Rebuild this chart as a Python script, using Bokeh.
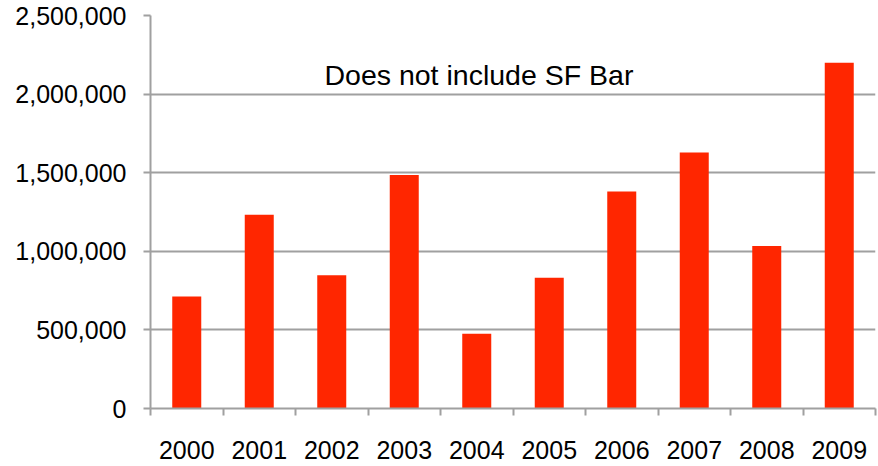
from bokeh.plotting import figure
from bokeh.models import (Range1d, LinearAxis, FixedTicker, NumeralTickFormatter,
                          Label, ColumnDataSource)
from bokeh.embed import file_html
from bokeh.resources import INLINE

# ---- data ----
years = ["2000", "2001", "2002", "2003", "2004", "2005", "2006", "2007", "2008", "2009"]
values = [712000, 1232000, 848000, 1485000, 475000, 831000, 1381000, 1629000, 1033000, 2199000]
y_ticks = [0, 500000, 1000000, 1500000, 2000000, 2500000]
note_text = "Does not include SF Bar"

FONT = "Liberation Sans"
GRID = "#A0A0A0"
BAR = "#FF2600"

n = len(years)
centers = [i + 0.5 for i in range(n)]      # category slot centres
edges = list(range(n + 1))                 # category slot boundaries

p = figure(x_range=Range1d(0, n), y_range=Range1d(0, 2500000),
           width=878, height=466, output_backend="svg", toolbar_location=None,
           x_axis_location=None, y_axis_location="left",
           min_border_left=150, min_border_right=3, min_border_top=15, min_border_bottom=58)
p.outline_line_color = None
p.background_fill_color = "white"
p.border_fill_color = "white"

# bars
src = ColumnDataSource(dict(x=centers, year=years, value=values))
p.vbar(x="x", top="value", width=0.4, source=src, fill_color=BAR, line_color=None)

# y axis
yax = p.yaxis[0]
yax.ticker = FixedTicker(ticks=y_ticks)
yax.formatter = NumeralTickFormatter(format="0,0")
yax.major_tick_out = 7
yax.major_tick_in = 0
yax.minor_tick_line_color = None
yax.axis_line_color = GRID
yax.axis_line_width = 2
yax.major_tick_line_color = GRID
yax.major_tick_line_width = 2
yax.major_label_text_font = FONT
yax.major_label_text_font_size = "25px"
yax.major_label_text_color = "black"
yax.major_label_standoff = 17

p.xgrid.visible = False
p.ygrid.ticker = FixedTicker(ticks=y_ticks)
p.ygrid.grid_line_color = GRID
p.ygrid.grid_line_width = 2

# x axis: tick marks at category boundaries (no labels)
tick_axis = LinearAxis(ticker=FixedTicker(ticks=edges),
                       major_tick_out=7, major_tick_in=0,
                       major_tick_line_color=GRID, major_tick_line_width=2,
                       minor_tick_line_color=None,
                       axis_line_color=GRID, axis_line_width=2,
                       major_label_overrides={t: "" for t in edges},
                       major_label_text_font_size="0px", major_label_standoff=0)
p.add_layout(tick_axis, "below")

# x axis: category labels at slot centres (no ticks)
cat_axis = LinearAxis(ticker=FixedTicker(ticks=centers),
                      major_label_overrides={c: y for c, y in zip(centers, years)},
                      major_tick_line_color=None, major_tick_out=0, major_tick_in=0,
                      minor_tick_line_color=None,
                      axis_line_color=None, major_label_standoff=25,
                      major_label_text_font=FONT, major_label_text_font_size="25px",
                      major_label_text_color="black")
p.add_layout(cat_axis, "below")

# annotation
note = Label(x=4.53, y=2124000, text=note_text,
             text_align="center", text_baseline="alphabetic",
             text_font=FONT, text_font_size="28.5px", text_color="black")
p.add_layout(note)

open("out.html", "w").write(file_html(p, INLINE))
